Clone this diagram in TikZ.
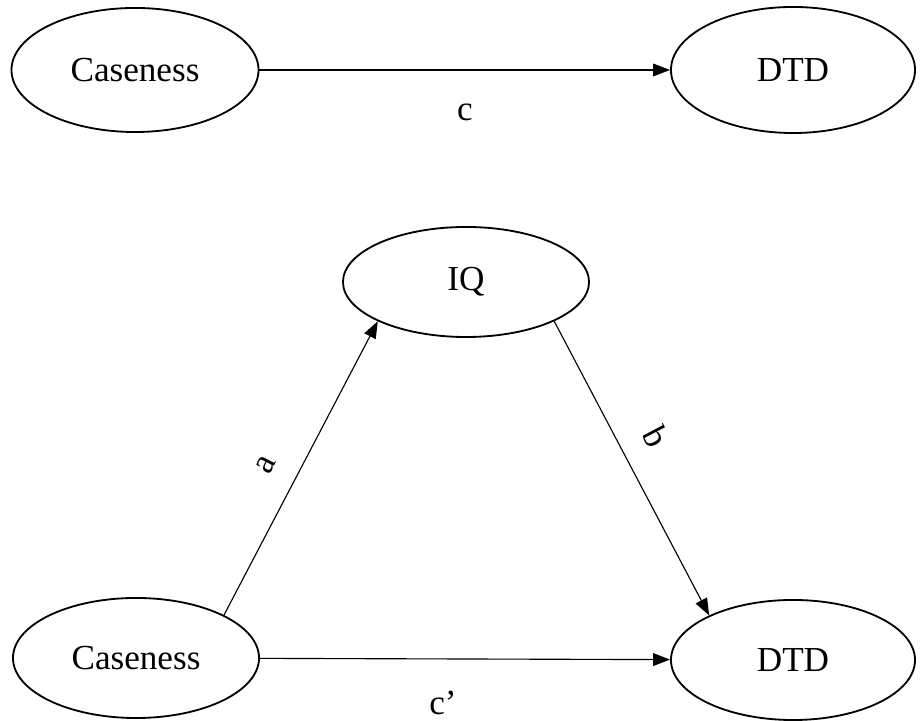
\documentclass[tikz,border=0pt]{standalone}
\usepackage{fontspec}
\setmainfont{Liberation Serif}
\usetikzlibrary{arrows.meta, shapes.geometric}

\begin{document}
\begin{tikzpicture}[x=0.025cm, y=0.025cm]

    \tikzstyle{var} = [draw, ellipse, line width=1.3pt, inner sep=0pt,
        font=\fontsize{25}{30}\selectfont]
    \tikzstyle{effect} = [line width=.8pt, -{Triangle[length=12pt,width=9pt]}]
    \tikzstyle{ann} = [font=\fontsize{25}{30}\selectfont, inner sep=2pt]

    \useasboundingbox (0,0) rectangle (923,721);

    % Total effect
    \node[var, minimum width=6.175cm, minimum height=3.1cm] (caseTop) at (135,651) {Caseness};
    \node[var, minimum width=6.1cm, minimum height=3.15cm] (dtdTop) at (793,651) {DTD};
    \draw[effect] (caseTop) -- (dtdTop);
    \node[ann] (cLab) at (465,609) {c};

    % Mediation through IQ
    \node[var, minimum width=6.15cm, minimum height=2.75cm] (iq) at (466,439) {IQ};
    \node[var, minimum width=6.15cm, minimum height=3cm] (caseBot) at (136,63) {Caseness};
    \node[var, minimum width=6.1cm, minimum height=3cm] (dtdBot) at (793,61) {DTD};

    \draw[effect] (caseBot.26) -- node[ann, sloped, above=15pt, pos=.46] {a} (iq.204);
    \draw[effect] (iq.336) -- node[ann, sloped, above=15pt, pos=.45] {b} (dtdBot.152);
    \draw[effect] (caseBot) -- (dtdBot);
    \node[ann] (cpLab) at (443,18) {c’};

\end{tikzpicture}
\end{document}
